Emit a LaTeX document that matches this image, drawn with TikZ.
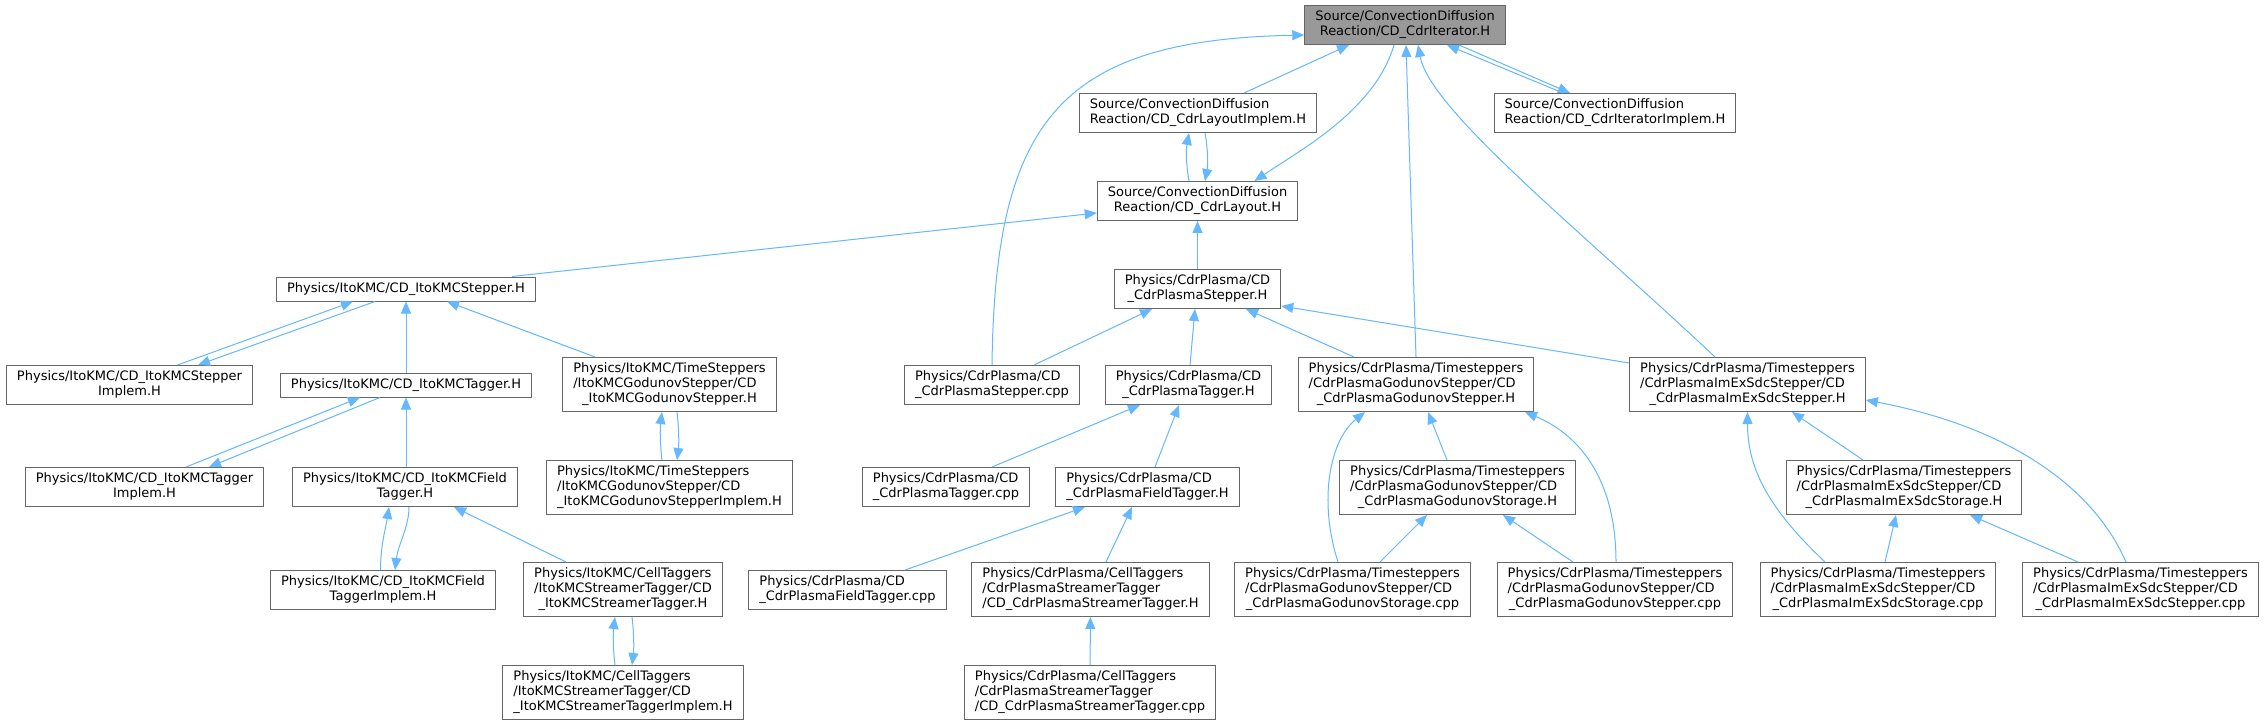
\documentclass[tikz,border=0pt]{standalone}
\usepackage{fontspec}
\setmainfont{DejaVu Sans}
\usetikzlibrary{arrows.meta}
\definecolor{edgeblue}{HTML}{63B8FF}
\definecolor{boxline}{HTML}{666666}
\definecolor{boxfill}{HTML}{999999}
\newcommand{\flab}[2]{\begin{tabular}{@{}l@{}}#1\\\multicolumn{1}{@{}c@{}}{#2}\end{tabular}}
\newcommand{\slab}[1]{\begin{tabular}{@{}c@{}}#1\end{tabular}}

\begin{document}
\begin{tikzpicture}[x=1pt,y=-1pt,
  box/.style={draw=boxline,line width=1pt,fill=white,inner xsep=10.5pt,inner ysep=4.5pt,font=\fontsize{13}{15}\selectfont},
  edge/.style={draw=edgeblue,line width=1pt,-{Triangle[length=12pt,width=10pt]}}]
  \fill[white] (0,0) rectangle (2265,725);
  \useasboundingbox (0,0) rectangle (2265,725);

  \node[box,fill=boxfill] (iter) at (1405,25) {\flab{Source/ConvectionDiffusion}{Reaction/CD\_CdrIterator.H}};
  \node[box] (layoutimpl) at (1198,113) {\flab{Source/ConvectionDiffusion}{Reaction/CD\_CdrLayoutImplem.H}};
  \node[box] (iterimpl) at (1615,113) {\flab{Source/ConvectionDiffusion}{Reaction/CD\_CdrIteratorImplem.H}};
  \node[box] (layout) at (1197.5,201) {\flab{Source/ConvectionDiffusion}{Reaction/CD\_CdrLayout.H}};
  \node[box] (itostep) at (406,289) {\slab{Physics/ItoKMC/CD\_ItoKMCStepper.H}};
  \node[box] (cdrstep) at (1197.5,289) {\flab{Physics/CdrPlasma/CD}{\_CdrPlasmaStepper.H}};

  \node[box] (itostepimpl) at (129.5,385) {\flab{Physics/ItoKMC/CD\_ItoKMCStepper}{Implem.H}};
  \node[box] (itotag) at (406,385) {\slab{Physics/ItoKMC/CD\_ItoKMCTagger.H}};
  \node[box] (itogodstep) at (669.5,384.5) {\flab{Physics/ItoKMC/TimeSteppers\\/ItoKMCGodunovStepper/CD}{\_ItoKMCGodunovStepper.H}};
  \node[box] (cdrstepcpp) at (992,385) {\flab{Physics/CdrPlasma/CD}{\_CdrPlasmaStepper.cpp}};
  \node[box] (cdrtag) at (1188.5,385) {\flab{Physics/CdrPlasma/CD}{\_CdrPlasmaTagger.H}};
  \node[box] (godstep) at (1416,384.5) {\flab{Physics/CdrPlasma/Timesteppers\\/CdrPlasmaGodunovStepper/CD}{\_CdrPlasmaGodunovStepper.H}};
  \node[box] (imexstep) at (1747.5,384.5) {\flab{Physics/CdrPlasma/Timesteppers\\/CdrPlasmaImExSdcStepper/CD}{\_CdrPlasmaImExSdcStepper.H}};

  \node[box] (itotagimpl) at (144.5,487) {\flab{Physics/ItoKMC/CD\_ItoKMCTagger}{Implem.H}};
  \node[box] (itofield) at (405,487) {\flab{Physics/ItoKMC/CD\_ItoKMCField}{Tagger.H}};
  \node[box] (itogodimpl) at (669.5,487.5) {\flab{Physics/ItoKMC/TimeSteppers\\/ItoKMCGodunovStepper/CD}{\_ItoKMCGodunovStepperImplem.H}};
  \node[box] (cdrtagcpp) at (946,487) {\flab{Physics/CdrPlasma/CD}{\_CdrPlasmaTagger.cpp}};
  \node[box] (cdrfield) at (1147.5,487) {\flab{Physics/CdrPlasma/CD}{\_CdrPlasmaFieldTagger.H}};
  \node[box] (godstor) at (1457.5,487.5) {\flab{Physics/CdrPlasma/Timesteppers\\/CdrPlasmaGodunovStepper/CD}{\_CdrPlasmaGodunovStorage.H}};
  \node[box] (imexstor) at (1904,487.5) {\flab{Physics/CdrPlasma/Timesteppers\\/CdrPlasmaImExSdcStepper/CD}{\_CdrPlasmaImExSdcStorage.H}};

  \node[box] (itofieldimpl) at (383,590) {\flab{Physics/ItoKMC/CD\_ItoKMCField}{TaggerImplem.H}};
  \node[box] (itostream) at (623,589.5) {\flab{Physics/ItoKMC/CellTaggers\\/ItoKMCStreamerTagger/CD}{\_ItoKMCStreamerTagger.H}};
  \node[box] (cdrfieldcpp) at (847.5,590) {\flab{Physics/CdrPlasma/CD}{\_CdrPlasmaFieldTagger.cpp}};
  \node[box] (cdrstream) at (1090.5,589.5) {\flab{Physics/CdrPlasma/CellTaggers\\/CdrPlasmaStreamerTagger}{/CD\_CdrPlasmaStreamerTagger.H}};
  \node[box] (godstorcpp) at (1352.5,589.5) {\flab{Physics/CdrPlasma/Timesteppers\\/CdrPlasmaGodunovStepper/CD}{\_CdrPlasmaGodunovStorage.cpp}};
  \node[box] (godstepcpp) at (1615,589.5) {\flab{Physics/CdrPlasma/Timesteppers\\/CdrPlasmaGodunovStepper/CD}{\_CdrPlasmaGodunovStepper.cpp}};
  \node[box] (imexstorcpp) at (1878,589.5) {\flab{Physics/CdrPlasma/Timesteppers\\/CdrPlasmaImExSdcStepper/CD}{\_CdrPlasmaImExSdcStorage.cpp}};
  \node[box] (imexstepcpp) at (2140.5,589.5) {\flab{Physics/CdrPlasma/Timesteppers\\/CdrPlasmaImExSdcStepper/CD}{\_CdrPlasmaImExSdcStepper.cpp}};

  \node[box] (itostreamimpl) at (623,692.5) {\flab{Physics/ItoKMC/CellTaggers\\/ItoKMCStreamerTagger/CD}{\_ItoKMCStreamerTaggerImplem.H}};
  \node[box] (cdrstreamcpp) at (1090,692.5) {\flab{Physics/CdrPlasma/CellTaggers\\/CdrPlasmaStreamerTagger}{/CD\_CdrPlasmaStreamerTagger.cpp}};

  \draw[edge] ([xshift=46pt]layoutimpl.north) -- ([xshift=-56pt]iter.south);
  \draw[edge] ([xshift=-52pt]iterimpl.north) -- ([xshift=42pt]iter.south);
  \draw[edge] ([xshift=54pt]iter.south) -- ([xshift=-45pt]iterimpl.north);
  \draw[edge] ([xshift=-11pt]iter.south) .. controls +(-19,65) and +(46,-31) .. ([xshift=57pt]layout.north);
  \draw[edge] ([xshift=-8.5pt]layout.north) .. controls +(-3,-16) and +(-3,16) .. ([xshift=-9pt]layoutimpl.south);
  \draw[edge] ([xshift=7pt]layoutimpl.south) .. controls +(3,16) and +(3,-16) .. ([xshift=7.5pt]layout.north);
  \draw[edge] (cdrstep) -- (layout);
  \draw[edge] ([xshift=106pt]itostep.north) -- ([yshift=-12pt]layout.west);
  \draw[edge] (cdrstepcpp.north) .. controls +(3,-244) and +(-245,5) .. ([yshift=-10pt]iter.west);
  \draw[edge] (godstep.north) -- ([xshift=1pt]iter.south);
  \draw[edge] ([xshift=-32.5pt]imexstep.north) .. controls +(-135,-127) and +(12,65) .. ([xshift=13pt]iter.south);

  \draw[edge] ([xshift=48pt]itostepimpl.north) -- ([xshift=-53pt]itostep.south);
  \draw[edge] ([xshift=-31pt]itostep.south) -- ([xshift=68.5pt]itostepimpl.north);
  \draw[edge] (itotag) -- (itostep);
  \draw[edge] ([xshift=-74.5pt]itogodstep.north) -- ([xshift=41pt]itostep.south);
  \draw[edge] ([xshift=41.5pt]itotagimpl.north) -- ([xshift=-46pt]itotag.south);
  \draw[edge] ([xshift=-26pt]itotag.south) -- ([xshift=64.5pt]itotagimpl.north);
  \draw[edge] ([xshift=1pt]itofield.north) -- (itotag.south);
  \draw[edge] ([xshift=-7.5pt]itogodimpl.north) .. controls +(-2,-16) and +(-2,16) .. ([xshift=-7.5pt]itogodstep.south);
  \draw[edge] ([xshift=7.5pt]itogodstep.south) .. controls +(2,16) and +(2,-16) .. ([xshift=7.5pt]itogodimpl.north);
  \draw[edge] ([xshift=-2.5pt]itofieldimpl.north) .. controls +(0,-25) and +(-3,20) .. ([xshift=-16pt]itofield.south);
  \draw[edge] ([xshift=4pt]itofield.south) .. controls +(0,20) and +(3,-25) .. ([xshift=12pt]itofieldimpl.north);
  \draw[edge] ([xshift=-57pt]itostream.north) -- ([xshift=49pt]itofield.south);
  \draw[edge] ([xshift=-8pt]itostreamimpl.north) .. controls +(-2,-16) and +(-2,16) .. ([xshift=-8pt]itostream.south);
  \draw[edge] ([xshift=9pt]itostream.south) .. controls +(2,16) and +(2,-16) .. ([xshift=9pt]itostreamimpl.north);

  \draw[edge] ([xshift=42pt]cdrstepcpp.north) -- ([xshift=-45.5pt]cdrstep.south);
  \draw[edge] ([xshift=1.5pt]cdrtag.north) -- ([xshift=-2.5pt]cdrstep.south);
  \draw[edge] ([xshift=-62pt]godstep.north) -- ([xshift=48.5pt]cdrstep.south);
  \draw[edge] ([yshift=-6pt]imexstep.north west) -- ([yshift=-17pt]cdrstep.east);
  \draw[edge] ([xshift=46pt]cdrtagcpp.north) -- ([xshift=-48.5pt]cdrtag.south);
  \draw[edge] ([xshift=7.5pt]cdrfield.north) -- ([xshift=-9.5pt]cdrtag.south);
  \draw[edge] ([xshift=57.5pt]cdrfieldcpp.north) -- ([xshift=-62.5pt]cdrfield.south);
  \draw[edge] ([xshift=15.5pt]cdrstream.north) -- ([xshift=-15.5pt]cdrfield.south);
  \draw[edge] (cdrstreamcpp) -- (cdrstream);

  \draw[edge] ([xshift=-10.5pt]godstor.north) -- ([xshift=12pt]godstep.south);
  \draw[edge] ([xshift=-14.5pt]godstorcpp.north) .. controls +(-20,-62) and +(-35,28) .. ([xshift=-51pt]godstep.south);
  \draw[edge] ([xshift=1pt]godstepcpp.north) .. controls +(0,-82) and +(55,23) .. ([xshift=109pt]godstep.south);
  \draw[edge] ([xshift=27.5pt]godstorcpp.north) -- ([xshift=-30.5pt]godstor.south);
  \draw[edge] ([xshift=-42pt]godstepcpp.north) -- ([xshift=45.5pt]godstor.south);
  \draw[edge] ([xshift=-41pt]imexstor.north) -- ([xshift=44.5pt]imexstep.south);
  \draw[edge] ([xshift=-53pt]imexstorcpp.north) .. controls +(-55,-52) and +(0,58) .. (imexstep.south);
  \draw[edge] ([xshift=-14.5pt]imexstepcpp.north) .. controls +(-36,-82) and +(132,25) .. ([yshift=-15.5pt]imexstep.east);
  \draw[edge] ([xshift=7pt]imexstorcpp.north) -- ([xshift=-8pt]imexstor.south);
  \draw[edge] ([xshift=-62.5pt]imexstepcpp.north) -- ([xshift=66pt]imexstor.south);
\end{tikzpicture}
\end{document}
